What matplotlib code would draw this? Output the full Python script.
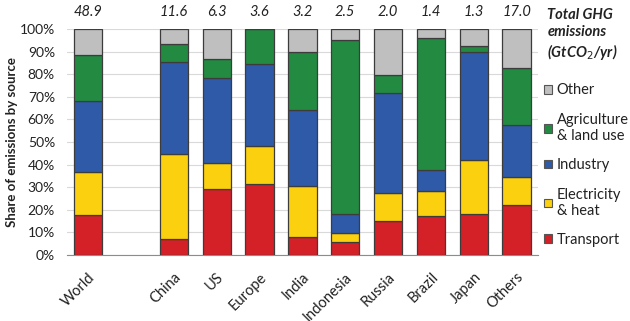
import numpy as np
from matplotlib import pyplot as plt
from matplotlib.patches import Patch

plt.rcParams['font.family'] = ['Lato', 'DejaVu Sans']

regions = ['World', '', 'China', 'US', 'Europe', 'India', 'Indonesia', 'Russia', 'Brazil', 'Japan', 'Others']
totals = ['48.9', '', '11.6', '6.3', '3.6', '3.2', '2.5', '2.0', '1.4', '1.3', '17.0']

# cumulative tops (%), converted to shares below
transport_top = [17.6, 0, 7.1, 29.1, 31.3, 8.0, 5.6, 14.9, 17.1, 18.2, 21.9]
electricity_top = [36.6, 0, 44.6, 40.6, 48.2, 30.3, 9.9, 27.6, 28.2, 42.1, 34.3]
industry_top = [68.2, 0, 85.5, 78.3, 84.5, 64.3, 17.9, 71.8, 37.5, 89.8, 57.5]
agriculture_top = [88.6, 0, 93.4, 86.7, 100.0, 89.7, 95.4, 79.8, 96.2, 92.5, 82.6]
other_top = [100, 0, 100, 100, 100, 100, 100, 100, 100, 100, 100]

sources = ['Transport', 'Electricity\n& heat', 'Industry', 'Agriculture\n& land use', 'Other']
colors = ['#d42027', '#fbd00f', '#2e5aa8', '#238a42', '#bfbfbf']

tops = np.array([transport_top, electricity_top, industry_top, agriculture_top, other_top])
shares = np.diff(np.vstack([np.zeros(len(regions)), tops]), axis=0)

fig = plt.figure(figsize=(6.3, 3.21), dpi=100)
ax = fig.add_axes([0.106, 0.206, 0.748, 0.703])

x = np.arange(len(regions))
mask = np.array([r != '' for r in regions])
bottom = np.zeros(len(regions))
for i in range(len(sources)):
    ax.bar(x[mask], shares[i][mask], 0.66, bottom=bottom[mask], color=colors[i],
           edgecolor='#3c3c3c', linewidth=0.9, zorder=3)
    bottom += shares[i]

ax.set_xlim(-0.5, 10.5)
ax.set_ylim(0, 100)
ax.set_yticks(np.arange(0, 101, 10))
ax.set_yticklabels([f'{v}%' for v in range(0, 101, 10)], fontsize=10, color='#222222')
ax.set_xticks(x[mask])
ax.set_xticklabels([r for r in regions if r], rotation=45, ha='right', rotation_mode='anchor',
                   fontsize=10.5, color='#222222')
ax.tick_params(axis='y', length=0, pad=8.5)
ax.tick_params(axis='x', length=0, pad=11)
ax.grid(axis='y', color='#d9d9d9', linewidth=0.8, zorder=0)
for s in ['top', 'left', 'right']:
    ax.spines[s].set_visible(False)
ax.spines['bottom'].set_color('#8c8c8c')
ax.set_ylabel('Share of emissions by source', fontsize=9.5, fontweight='bold', color='#222222', labelpad=1)

for xi, t in zip(x, totals):
    if t:
        ax.text(xi, 104.5, t, ha='center', va='bottom', fontsize=10.5, style='italic', color='#222222')

ax.text(1.02, 1.095, 'Total GHG\nemissions\n(GtCO$_2$/yr)', transform=ax.transAxes, ha='left', va='top',
        fontsize=10.5, fontweight='bold', style='italic', color='#222222', linespacing=1.25)

handles = [Patch(facecolor=c, edgecolor='#555555', linewidth=0.8) for c in colors]
leg = ax.legend(handles[::-1], sources[::-1], loc='upper left', bbox_to_anchor=(1.013, 0.76),
                frameon=False, fontsize=10.5, handlelength=0.55, handleheight=0.55, handletextpad=0.3,
                labelspacing=1.05, borderaxespad=0, borderpad=0)
for t in leg.get_texts():
    t.set_color('#222222')

fig.savefig('out.png', dpi=100)
